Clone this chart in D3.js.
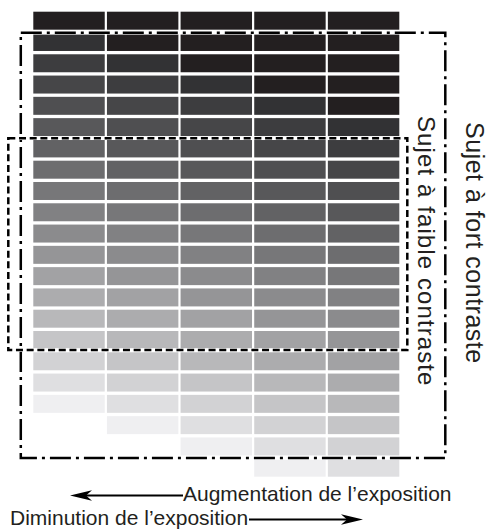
<!DOCTYPE html>
<html>
<head>
<meta charset="utf-8">
<script src="https://cdn.jsdelivr.net/npm/d3@7"></script>
<style>
  html, body { margin: 0; padding: 0; background: #ffffff; }
  svg { display: block; }
  text { font-family: "Liberation Sans", Arial, Helvetica, sans-serif; fill: #231f20; }
</style>
</head>
<body>
<script>
// ---- data (grey levels, top row first) ----
const columns = ["c1", "c2", "c3", "c4", "c5"];
const rowCount = 22;
const col1 = [33, 51, 62, 71, 80, 89, 99, 110, 120, 130, 140, 150, 163, 173, 185, 198, 211, 224, 240];
const col2 = [33, 33, 51, 62, 71, 80, 89, 99, 110, 120, 130, 140, 150, 163, 173, 185, 198, 211, 224, 240];
const col3 = [33, 33, 33, 51, 62, 71, 80, 89, 99, 110, 120, 130, 140, 150, 163, 173, 185, 198, 211, 224, 240];
const col4 = [33, 33, 33, 33, 51, 62, 71, 80, 89, 99, 110, 120, 130, 140, 150, 163, 173, 185, 198, 211, 224, 240];
const col5 = [33, 33, 33, 33, 33, 51, 62, 71, 80, 89, 99, 110, 120, 130, 140, 150, 163, 173, 185, 198, 211, 224];
const columnValues = [col1, col2, col3, col4, col5];

const labelHigh = "Sujet à fort contraste";
const labelLow = "Sujet à faible contraste";
const labelUp = "Augmentation de l\u2019exposition";
const labelDown = "Diminution de l\u2019exposition";

// ---- layout ----
const W = 489, H = 531;
const svg = d3.select("body").append("svg").attr("width", W).attr("height", H);

const x = d3.scaleBand().domain(columns).range([33.3, 399.3]).paddingInner(0.03).paddingOuter(0);
const y = d3.scaleBand().domain(d3.range(rowCount)).range([11.7, 476.7]).paddingInner(0.155).paddingOuter(0);

function grey(v) {
  if (v <= 35) return "#231f20";
  return d3.rgb(v - 1, v - 1, v + 1).formatHex();
}

const cells = [];
columnValues.forEach((vals, ci) => {
  vals.forEach((v, ri) => cells.push({ col: columns[ci], row: ri, v }));
});

svg.append("g").selectAll("rect").data(cells).join("rect")
  .attr("x", d => x(d.col))
  .attr("y", d => y(d.row))
  .attr("width", x.bandwidth())
  .attr("height", y.bandwidth())
  .attr("fill", d => grey(d.v));

// ---- contrast boxes ----
function box(x0, y0, x1, y1, dash) {
  const g = svg.append("g");
  g.append("rect").attr("x", x0).attr("y", y0).attr("width", x1 - x0).attr("height", y1 - y0)
    .attr("fill", "none").attr("stroke", "#ffffff").attr("stroke-width", 3.6);
  g.append("rect").attr("x", x0).attr("y", y0).attr("width", x1 - x0).attr("height", y1 - y0)
    .attr("fill", "none").attr("stroke", "#000000").attr("stroke-width", 2.5)
    .attr("stroke-dasharray", dash);
}
// high contrast (dash-dot)
box(x("c1") - 12.5, y(1) - 0.2, x("c5") + x.bandwidth() + 46, y(21) - 0.8, "21,5,3,5");
// low contrast (dashed)
box(x("c1") - 25, y(6) - 1.2, x("c5") + x.bandwidth() + 8, y(16) - 2.3, "7,3.7");

// ---- vertical labels ----
svg.append("text")
  .attr("transform", `translate(465.5,122) rotate(90)`)
  .attr("font-size", 25)
  .attr("letter-spacing", 0.5)
  .text(labelHigh);
svg.append("text")
  .attr("transform", `translate(417.5,116) rotate(90)`)
  .attr("font-size", 24)
  .attr("letter-spacing", 1.1)
  .text(labelLow);

// ---- exposure arrows ----
function arrow(xStart, xTip, yy) {
  const dir = xTip < xStart ? -1 : 1;
  svg.append("line").attr("x1", xStart).attr("x2", xTip - dir * 10).attr("y1", yy).attr("y2", yy)
    .attr("stroke", "#000").attr("stroke-width", 1.8);
  const p = d3.path();
  p.moveTo(xTip, yy);
  p.lineTo(xTip - dir * 22, yy - 5.2);
  p.lineTo(xTip - dir * 16, yy);
  p.lineTo(xTip - dir * 22, yy + 5.2);
  p.closePath();
  svg.append("path").attr("d", p.toString()).attr("fill", "#000");
}

svg.append("text").attr("x", 183).attr("y", 501).attr("font-size", 21).text(labelUp);
arrow(183, 70, 495.5);

svg.append("text").attr("x", 10).attr("y", 525).attr("font-size", 21).text(labelDown);
arrow(249, 363, 519.5);
</script>
</body>
</html>
